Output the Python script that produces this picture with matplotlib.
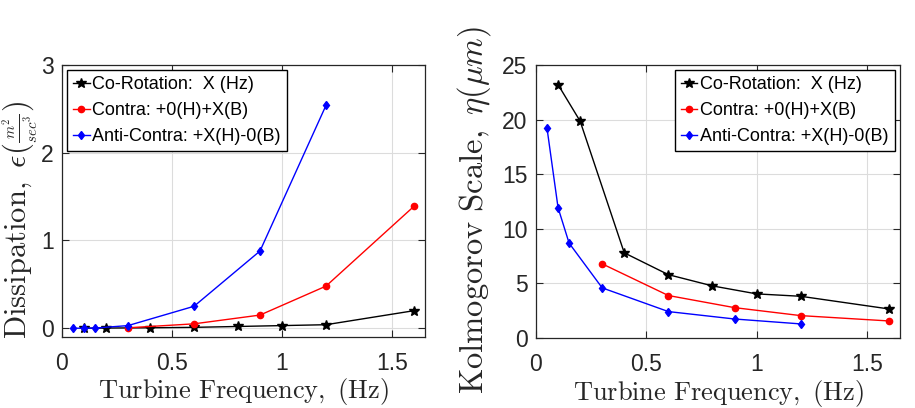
import matplotlib
matplotlib.use("Agg")
import matplotlib.pyplot as plt
from matplotlib.ticker import FuncFormatter

plt.rcParams['mathtext.fontset'] = 'cm'
plt.rcParams['font.family'] = ['Liberation Sans', 'DejaVu Sans']

# Dissipation data
co_x = [0.1, 0.2, 0.4, 0.6, 0.8, 1.0, 1.2, 1.6]
co_eps = [0.0, 0.002, 0.005, 0.01, 0.02, 0.03, 0.04, 0.2]
contra_x = [0.3, 0.6, 0.9, 1.2, 1.6]
contra_eps = [0.005, 0.05, 0.15, 0.48, 1.39]
anti_x = [0.05, 0.1, 0.15, 0.3, 0.6, 0.9, 1.2]
anti_eps = [0.0, 0.0, 0.002, 0.03, 0.25, 0.88, 2.54]

# Kolmogorov scale data
co_eta = [23.2, 19.86, 7.8, 5.8, 4.77, 4.04, 3.82, 2.66]
contra_eta = [6.79, 3.89, 2.78, 2.05, 1.56]
anti_eta = [19.2, 11.93, 8.69, 4.59, 2.42, 1.74, 1.29]

labels = ['Co-Rotation:  X (Hz)', 'Contra: +0(H)+X(B)', 'Anti-Contra: +X(H)-0(B)']

fig = plt.figure(figsize=(9.15, 4.08), dpi=100)
W, H = 915, 408
ax1 = fig.add_axes([62 / W, 1 - 337 / H, (425 - 62) / W, (337 - 65) / H])
ax2 = fig.add_axes([536 / W, 1 - 338 / H, (900 - 536) / W, (338 - 65) / H])

fmt = FuncFormatter(lambda v, p: ('%g' % v))

def style(ax):
    ax.grid(True, color='#dcdcdc', linewidth=0.8)
    ax.set_axisbelow(True)
    ax.tick_params(direction='in', top=True, right=True, labelsize=16.5, length=5, colors='#262626',
                   labelcolor='#262626', pad=6)
    ax.tick_params(axis='x', pad=11)
    for s in ax.spines.values():
        s.set_color('#262626')
        s.set_linewidth(0.9)
    ax.xaxis.set_major_formatter(fmt)
    ax.yaxis.set_major_formatter(fmt)
    ax.set_xlim(0, 1.65)
    ax.set_xticks([0, 0.5, 1, 1.5])
    ax.set_xlabel(r'$\mathrm{Turbine\ Frequency,\ (Hz)}$', fontsize=19, color='#262626')
    ax.xaxis.set_label_coords(0.5, -0.145)

for ax, ys in [(ax1, (co_eps, contra_eps, anti_eps)), (ax2, (co_eta, contra_eta, anti_eta))]:
    ax.plot(co_x, ys[0], color='black', marker='*', markersize=7, linewidth=1, label=labels[0])
    ax.plot(contra_x, ys[1], color='red', marker='o', markersize=4.5, linewidth=1, label=labels[1])
    ax.plot(anti_x, ys[2], color='blue', marker='d', markersize=4.5, linewidth=1, label=labels[2])
    style(ax)

ax1.set_ylim(-0.1, 3)
ax1.set_yticks([0, 1, 2, 3])
ax1.set_ylabel(r'$\mathrm{Dissipation,}\ \epsilon(\genfrac{}{}{0.8}{2}{m^2}{sec^3})$', fontsize=22, color='#262626')
ax1.yaxis.set_label_coords(-0.06, 0.43)
ax2.set_ylim(0, 25)
ax2.set_yticks([0, 5, 10, 15, 20, 25])
ax2.set_ylabel(r'$\mathrm{Kolmogorov\ Scale,}\ \eta(\mu m)$', fontsize=23.5, color='#262626')
ax2.yaxis.set_label_coords(-0.118, 0.47)

for ax, loc in [(ax1, 'upper left'), (ax2, 'upper right')]:
    leg = ax.legend(loc=loc, fontsize=13, frameon=True, fancybox=False, edgecolor='black',
                    handlelength=0.9, handletextpad=0.15, borderpad=0.33, labelspacing=0.5,
                    borderaxespad=0.3, markerscale=1.0)
    leg.get_frame().set_linewidth(1.0)
    leg.get_frame().set_alpha(1)

fig.savefig('out.png', dpi=100)
